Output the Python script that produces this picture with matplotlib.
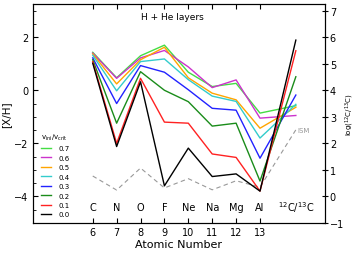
import matplotlib
matplotlib.use("Agg")
import matplotlib.pyplot as plt
from matplotlib.ticker import MultipleLocator

# atomic numbers and element names
Z = [6, 7, 8, 9, 10, 11, 12, 13]
elements = ["C", "N", "O", "F", "Ne", "Na", "Mg", "Al"]
ratio_x = 14.5

# [X/H] per rotation velocity (v_ini/v_crit)
vel_labels = ["0.7", "0.6", "0.5", "0.4", "0.3", "0.2", "0.1", "0.0"]
colors = ["#44dd44", "#cc33cc", "#ffa500", "#33cccc", "#2222ff", "#1a8c1a", "#ff2222", "black"]
xh_07 = [1.43, 0.47, 1.30, 1.70, 0.68, 0.14, 0.26, -0.86]
xh_06 = [1.40, 0.45, 1.22, 1.50, 0.88, 0.10, 0.39, -1.05]
xh_05 = [1.37, 0.24, 1.15, 1.62, 0.47, -0.11, -0.36, -1.43]
xh_04 = [1.32, -0.02, 1.08, 1.18, 0.40, -0.22, -0.42, -1.80]
xh_03 = [1.22, -0.50, 0.93, 0.68, 0.02, -0.68, -0.75, -2.56]
xh_02 = [1.15, -1.24, 0.70, 0.00, -0.43, -1.35, -1.24, -3.42]
xh_01 = [1.08, -2.00, 0.45, -1.20, -1.24, -2.40, -2.53, -3.80]
xh_00 = [1.02, -2.12, 0.32, -3.60, -2.18, -3.25, -3.15, -3.80]
# log(12C/13C), right axis
ratio = [3.42, 3.05, 3.36, 3.47, 3.82, 4.51, 5.49, 5.89]

# ISM reference
ism = [-3.23, -3.76, -2.93, -3.68, -3.33, -3.75, -3.41, -3.65]
ism_ratio = 2.51

offset = 4.0  # right axis = left axis + 4

fig = plt.figure(figsize=(3.56, 2.55), dpi=100)
ax = fig.add_axes([0.0927, 0.1216, 0.8202, 0.8588])

ax.plot(Z + [ratio_x], ism + [ism_ratio - offset], color="#999999", ls=(0, (4, 3)), lw=0.8)
ax.text(14.58, ism_ratio - offset, "ISM", color="#999999", fontsize=5, ha="left", va="center")

series = [xh_07, xh_06, xh_05, xh_04, xh_03, xh_02, xh_01, xh_00]
for vals, r, c, lab in zip(series, ratio, colors, vel_labels):
    ax.plot(Z + [ratio_x], vals + [r - offset], color=c, lw=1.0, label=lab)

for z, el in zip(Z, elements):
    ax.text(z, -4.4, el, ha="center", va="center", fontsize=7)
ax.text(ratio_x, -4.4, r"$^{12}$C/$^{13}$C", ha="center", va="center", fontsize=7)

ax.text(0.476, 0.945, "H + He layers", transform=ax.transAxes, ha="center", va="center", fontsize=6.5)

ax.set_xlim(3.5, 15.72)
ax.set_ylim(-5, 3.25)
ax.set_xticks(Z)
ax.yaxis.set_major_locator(MultipleLocator(2))
ax.yaxis.set_minor_locator(MultipleLocator(0.5))
ax.tick_params(axis="x", which="both", direction="in", top=True, length=3.5, labelsize=7, pad=3)
ax.tick_params(axis="y", which="major", direction="in", length=3.5, labelsize=7)
ax.tick_params(axis="y", which="minor", direction="in", length=2)
ax.set_xlabel("Atomic Number", fontsize=8, labelpad=1)
ax.set_ylabel("[X/H]", fontsize=7.5, labelpad=2)

ax2 = ax.twinx()
ax2.set_ylim(-1, 7.25)
ax2.yaxis.set_major_locator(MultipleLocator(1))
ax2.tick_params(axis="y", direction="inout", length=4, labelsize=7, pad=1.5)
ax2.set_ylabel(r"log($^{12}$C/$^{13}$C)", fontsize=5, labelpad=0)

for a in (ax, ax2):
    for s in a.spines.values():
        s.set_linewidth(0.8)

leg = ax.legend(loc="upper left", bbox_to_anchor=(0.01, 0.44), frameon=False,
                fontsize=5, title=r"v$_{\rm ini}$/v$_{\rm crit}$", title_fontsize=5,
                handlelength=1.5, handletextpad=1.0, labelspacing=0.5, borderpad=0.2)
leg._legend_box.align = "left"

fig.savefig("out.png", dpi=100)
